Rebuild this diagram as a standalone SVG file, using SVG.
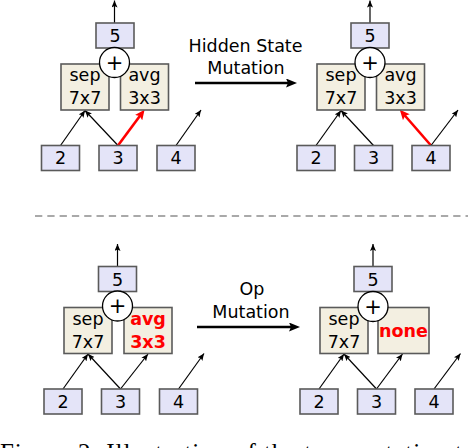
<svg xmlns="http://www.w3.org/2000/svg" width="468" height="448" viewBox="0 0 468 448">
<style>
.st{fill:#e4e4f8;stroke:#5a5a5a;stroke-width:1.6}
.op{fill:#f3efe1;stroke:#5a5a5a;stroke-width:1.6}
.pl{fill:#fff;stroke:#000;stroke-width:1.3}
.t{font-family:"DejaVu Sans",sans-serif;font-size:17.5px;fill:#000;text-anchor:middle}
.tr{font-family:"DejaVu Sans",sans-serif;font-size:17.5px;fill:#ff0000;font-weight:bold;text-anchor:middle}
.pt{font-family:"DejaVu Sans",sans-serif;font-size:21px;fill:#000;text-anchor:middle}
.e{stroke:#000;stroke-width:1.2;fill:none;marker-end:url(#ah)}
.er{stroke:#ff0000;stroke-width:2.6;fill:none;marker-end:url(#ahr)}
.big{stroke:#000;stroke-width:2.6;fill:none;marker-end:url(#ahb)}
.cap{font-family:"Liberation Serif",serif;font-size:25px;fill:#000}
</style>
<defs>
<marker id="ah" markerUnits="userSpaceOnUse" viewBox="0 0 7 6" markerWidth="7" markerHeight="6" refX="7" refY="3" orient="auto"><path d="M0,0 L7,3 L0,6 L1.5,3 z" fill="#000"/></marker>
<marker id="ahr" markerUnits="userSpaceOnUse" viewBox="0 0 10 9" markerWidth="10" markerHeight="9" refX="3" refY="4.5" orient="auto"><path d="M0,0 L10,4.5 L0,9 L2,4.5 z" fill="#ff0000"/></marker>
<marker id="ahb" markerUnits="userSpaceOnUse" viewBox="0 0 11 9" markerWidth="11" markerHeight="9" refX="3" refY="4.5" orient="auto"><path d="M0,0 L11,4.5 L0,9 L2,4.5 z" fill="#000"/></marker>
</defs>

<g id="connectors">
<!-- top left -->
<line class="e" x1="114.5" y1="23" x2="114.5" y2="0.5"/>
<line class="e" x1="60.5" y1="145.5" x2="85" y2="110.5"/>
<line class="e" x1="118" y1="145.5" x2="85" y2="110.5"/>
<line class="er" x1="118" y1="145.5" x2="140.4" y2="115.3"/>
<line class="e" x1="176" y1="145.5" x2="201" y2="110"/>
<!-- top right -->
<line class="e" x1="370" y1="23" x2="370" y2="0.5"/>
<line class="e" x1="316" y1="145.5" x2="341" y2="110.5"/>
<line class="e" x1="373.5" y1="145.5" x2="341" y2="110.5"/>
<line class="er" x1="431" y1="145.5" x2="404.4" y2="115"/>
<line class="e" x1="431" y1="145.5" x2="458" y2="110"/>
<!-- bottom left -->
<line class="e" x1="117.5" y1="266.5" x2="117.5" y2="244"/>
<line class="e" x1="63" y1="389" x2="88" y2="354"/>
<line class="e" x1="120.5" y1="389" x2="88" y2="354"/>
<line class="e" x1="120.5" y1="389" x2="148" y2="354"/>
<line class="e" x1="178.5" y1="389" x2="204" y2="353.5"/>
<!-- bottom right -->
<line class="e" x1="373" y1="266.5" x2="373" y2="244"/>
<line class="e" x1="319" y1="389" x2="344" y2="354"/>
<line class="e" x1="376.5" y1="389" x2="344" y2="354"/>
<line class="e" x1="376.5" y1="389" x2="402.5" y2="354"/>
<line class="e" x1="434" y1="389" x2="460.5" y2="353.5"/>
<!-- mutation arrows -->
<line class="big" x1="195" y1="83" x2="289" y2="83"/>
<line class="big" x1="197" y1="327" x2="292" y2="327"/>
</g>

<!-- separator -->
<line x1="35" y1="216" x2="468" y2="216" stroke="#555" stroke-width="1.2" stroke-dasharray="7.3 5"/>

<!-- labels -->
<g id="label-hidden">
<text class="t" x="245.5" y="52">Hidden State</text>
<text class="t" x="246" y="74">Mutation</text>
</g>
<g id="label-op">
<text class="t" x="252" y="295">Op</text>
<text class="t" x="251" y="317.5">Mutation</text>
</g>

<!-- top left diagram -->
<g id="tl-5"><rect class="st" x="96" y="23" width="38" height="25"/><text class="t" x="115" y="42">5</text></g>
<g id="tl-sep"><rect class="op" x="61" y="64" width="48" height="46"/><text class="t" x="85" y="81">sep</text><text class="t" x="85" y="104">7x7</text></g>
<g id="tl-avg"><rect class="op" x="120.5" y="64" width="48" height="46"/><text class="t" x="144.5" y="81">avg</text><text class="t" x="144.5" y="104">3x3</text></g>
<g id="tl-plus"><circle class="pl" cx="114.5" cy="62.5" r="15"/><text class="pt" x="114.5" y="69.5">+</text></g>
<g id="tl-2"><rect class="st" x="41.5" y="145.5" width="38" height="25"/><text class="t" x="60.5" y="164">2</text></g>
<g id="tl-3"><rect class="st" x="99" y="145.5" width="38" height="25"/><text class="t" x="118" y="164">3</text></g>
<g id="tl-4"><rect class="st" x="157" y="145.5" width="38" height="25"/><text class="t" x="176" y="164">4</text></g>

<!-- top right diagram -->
<g id="tr-5"><rect class="st" x="351" y="23" width="38" height="25"/><text class="t" x="370" y="42">5</text></g>
<g id="tr-sep"><rect class="op" x="317" y="64" width="48" height="46"/><text class="t" x="341" y="81">sep</text><text class="t" x="341" y="104">7x7</text></g>
<g id="tr-avg"><rect class="op" x="376.5" y="64" width="48" height="46"/><text class="t" x="400.5" y="81">avg</text><text class="t" x="400.5" y="104">3x3</text></g>
<g id="tr-plus"><circle class="pl" cx="370" cy="62.5" r="15"/><text class="pt" x="370" y="69.5">+</text></g>
<g id="tr-2"><rect class="st" x="297" y="145.5" width="38" height="25"/><text class="t" x="316" y="164">2</text></g>
<g id="tr-3"><rect class="st" x="354.5" y="145.5" width="38" height="25"/><text class="t" x="373.5" y="164">3</text></g>
<g id="tr-4"><rect class="st" x="412" y="145.5" width="38" height="25"/><text class="t" x="431" y="164">4</text></g>

<!-- bottom left diagram -->
<g id="bl-5"><rect class="st" x="98.5" y="266.5" width="38" height="25"/><text class="t" x="117.5" y="285.5">5</text></g>
<g id="bl-sep"><rect class="op" x="64" y="307.5" width="48" height="46"/><text class="t" x="88" y="324.5">sep</text><text class="t" x="88" y="347.5">7x7</text></g>
<g id="bl-avg"><rect class="op" x="124" y="307.5" width="48" height="46"/><text class="tr" x="148" y="324.5">avg</text><text class="tr" x="148" y="347.5">3x3</text></g>
<g id="bl-plus"><circle class="pl" cx="117.5" cy="306" r="15"/><text class="pt" x="117.5" y="313">+</text></g>
<g id="bl-2"><rect class="st" x="44" y="389" width="38" height="25"/><text class="t" x="63" y="407.5">2</text></g>
<g id="bl-3"><rect class="st" x="101.5" y="389" width="38" height="25"/><text class="t" x="120.5" y="407.5">3</text></g>
<g id="bl-4"><rect class="st" x="159.5" y="389" width="38" height="25"/><text class="t" x="178.5" y="407.5">4</text></g>

<!-- bottom right diagram -->
<g id="br-5"><rect class="st" x="354" y="266.5" width="38" height="25"/><text class="t" x="373" y="285.5">5</text></g>
<g id="br-sep"><rect class="op" x="320" y="307.5" width="48" height="46"/><text class="t" x="344" y="324.5">sep</text><text class="t" x="344" y="347.5">7x7</text></g>
<g id="br-none"><rect class="op" x="378" y="307.5" width="51" height="46"/><text class="tr" x="403.5" y="336.5">none</text></g>
<g id="br-plus"><circle class="pl" cx="373" cy="306.5" r="15"/><text class="pt" x="373" y="313.5">+</text></g>
<g id="br-2"><rect class="st" x="300" y="389" width="38" height="25"/><text class="t" x="319" y="407.5">2</text></g>
<g id="br-3"><rect class="st" x="357.5" y="389" width="38" height="25"/><text class="t" x="376.5" y="407.5">3</text></g>
<g id="br-4"><rect class="st" x="415" y="389" width="38" height="25"/><text class="t" x="434" y="407.5">4</text></g>

<!-- caption (cut off at bottom edge) -->
<text class="cap" x="0" y="460.5" textLength="462" lengthAdjust="spacing">Figure 2: Illustration of the two mutation t</text>
</svg>
